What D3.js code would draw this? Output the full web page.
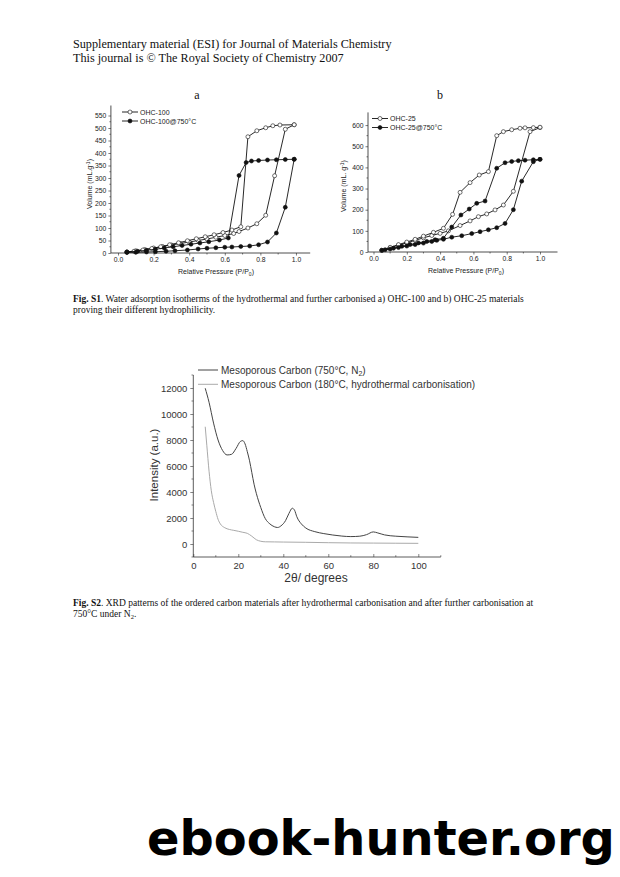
<!DOCTYPE html>
<html><head><meta charset="utf-8">
<script src="https://cdn.jsdelivr.net/npm/d3@7"></script>
<style>body{margin:0;background:#fff}svg{display:block}</style>
</head><body>
<script>
// ---------- DATA ----------
const headerLines = ["Supplementary material (ESI) for Journal of Materials Chemistry","This journal is \u00A9 The Royal Society of Chemistry 2007"];
// Chart a : OHC-100
const aOpenAdsX = [0.05,0.10,0.15,0.20,0.25,0.30,0.35,0.40,0.45,0.50,0.55,0.60,0.65,0.68,0.73,0.78,0.83,0.88,0.94,0.99];
const aOpenAdsY = [4,9,14,20,26,32,38,44,50,56,63,70,78,86,100,117,151,309,495,513];
const aOpenDesX = [0.99,0.91,0.87,0.83,0.78,0.73,0.69,0.64,0.59,0.54,0.49,0.44,0.39,0.34,0.29,0.24,0.19,0.14,0.09,0.05];
const aOpenDesY = [513,512,509,501,489,465,105,92,82,73,65,57,49,41,33,25,18,12,7,4];
const aFillAdsX = [0.05,0.10,0.16,0.21,0.27,0.32,0.39,0.45,0.50,0.55,0.60,0.64,0.69,0.74,0.79,0.84,0.89,0.94,0.99];
const aFillAdsY = [2,3,4,5,7,9,12,16,19,21,23,24,26,28,33,44,80,183,375];
const aFillDesX = [0.99,0.94,0.89,0.84,0.79,0.75,0.72,0.68,0.62,0.57,0.51,0.46,0.41,0.36,0.31,0.26,0.21,0.16,0.11,0.05];
const aFillDesY = [375,374,373,372,370,368,362,310,60,52,45,40,35,30,25,20,15,11,7,4];
// Chart b : OHC-25
const bOpenAdsX = [0.05,0.10,0.15,0.20,0.25,0.30,0.35,0.40,0.45,0.52,0.58,0.63,0.68,0.73,0.78,0.84,0.94,1.00];
const bOpenAdsY = [8,20,32,43,55,67,78,88,100,125,147,167,180,199,222,287,569,588];
const bOpenDesX = [1.00,0.96,0.91,0.88,0.83,0.78,0.74,0.69,0.635,0.58,0.52,0.475,0.42,0.36,0.30,0.25,0.20,0.15,0.10,0.05];
const bOpenDesY = [590,588,587,585,578,569,550,380,364,328,282,178,112,93,75,60,47,35,22,8];
const bFillAdsX = [0.05,0.10,0.15,0.20,0.25,0.30,0.35,0.38,0.42,0.47,0.53,0.59,0.64,0.69,0.74,0.79,0.84,0.89,0.96,1.00];
const bFillAdsY = [8,14,21,28,35,42,50,55,60,70,77,87,96,105,115,135,200,335,427,438];
const bFillDesX = [1.00,0.96,0.91,0.87,0.83,0.79,0.74,0.67,0.62,0.575,0.525,0.47,0.42,0.37,0.32,0.27,0.22,0.17,0.12,0.07];
const bFillDesY = [438,436,434,432,428,422,396,241,230,203,175,118,65,58,50,43,35,27,18,11];
const aYTicks = [0,50,100,150,200,250,300,350,400,450,500,550];
const bYTicks = [0,100,200,300,400,500,600];
const isoXTicks = [0.0,0.2,0.4,0.6,0.8,1.0];
// XRD
const xrd750X = [5.3,7,9,11,13,15,17,19,21,22,23,24,25,26,27,28,30,32,34,36,37.5,39,41,42.5,44,45,46,48,50,54,58,62,66,70,74,77,80,82,85,90,95,100];
const xrd750Y = [11980,10900,9300,8000,7200,6850,6900,7350,7900,7950,7700,7100,6400,5500,4600,3900,2800,1950,1550,1330,1270,1400,1800,2350,2750,2600,2100,1550,1230,950,800,690,610,570,600,720,930,850,700,600,550,510];
const xrd180X = [5.3,6,7,8,9,10,11,12,14,16,18,20,22,24,26,28,30,32,36,40,50,60,70,80,90,100];
const xrd180Y = [9020,7600,5600,4100,3200,2500,1900,1550,1250,1120,1050,980,900,820,600,330,210,170,160,150,130,100,80,70,60,50];
const xrdXTicks = [0,20,40,60,80,100];
const xrdYTicks = [0,2000,4000,6000,8000,10000,12000];

const SERIF = "'Liberation Serif','Times New Roman',serif";
const SANS = "'Liberation Sans',Arial,sans-serif";

const svg = d3.select("body").append("svg").attr("width",620).attr("height",877);
svg.append("rect").attr("width",620).attr("height",877).attr("fill","#fff");

// Header
svg.selectAll("text.hdr").data(headerLines).join("text").attr("class","hdr")
  .attr("x",73).attr("y",(d,i)=>48+i*14).attr("font-family",SERIF).attr("font-size",12.2).attr("fill","#111").text(d=>d);

// ---------- isotherm chart helper ----------
function iso(opts){
  const g = svg.append("g");
  const x = d3.scaleLinear().domain(opts.xd).range(opts.xr);
  const y = d3.scaleLinear().domain(opts.yd).range(opts.yr);
  g.append("line").attr("x1",x.range()[0]).attr("x2",x.range()[1]).attr("y1",y(opts.yd[0])).attr("y2",y(opts.yd[0])).attr("stroke","#222").attr("stroke-width",0.8);
  g.append("line").attr("x1",x.range()[0]).attr("x2",x.range()[0]).attr("y1",y.range()[0]).attr("y2",y.range()[1]).attr("stroke","#222").attr("stroke-width",0.8);
  const ax = d3.axisBottom(x).tickValues(opts.xt).tickFormat(d3.format(".1f")).tickSize(2.5).tickPadding(2);
  const gx = g.append("g").attr("transform",`translate(0,${y(opts.yd[0])})`).call(ax);
  const minorX = d3.range(0.1,1.05,0.2);
  g.selectAll("line.mx").data(minorX).join("line").attr("x1",d=>x(d)).attr("x2",d=>x(d)).attr("y1",y(opts.yd[0])).attr("y2",y(opts.yd[0])+1.5).attr("stroke","#222").attr("stroke-width",0.6);
  const ay = d3.axisLeft(y).tickValues(opts.yt).tickFormat(d3.format("d")).tickSize(2.5).tickPadding(2);
  const gy = g.append("g").attr("transform",`translate(${x.range()[0]},0)`).call(ay);
  const minorY = opts.yt.slice(0,-1).map((d,i)=>(d+opts.yt[i+1])/2);
  g.selectAll("line.my").data(minorY).join("line").attr("x1",x.range()[0]).attr("x2",x.range()[0]-1.5).attr("y1",d=>y(d)).attr("y2",d=>y(d)).attr("stroke","#222").attr("stroke-width",0.6);
  [gx,gy].forEach(a=>{a.select(".domain").remove();a.selectAll("line").attr("stroke","#222").attr("stroke-width",0.6);
    a.selectAll("text").attr("font-family",SANS).attr("font-size",6.8).attr("fill","#222");});
  const line = d3.line().x(d=>x(d[0])).y(d=>y(d[1]));
  opts.series.forEach(s=>{
    const pts = s.x.map((v,i)=>[v,s.y[i]]);
    g.append("path").attr("d",line(pts)).attr("fill","none").attr("stroke","#111").attr("stroke-width",0.9);
    g.selectAll(null).data(pts).join("circle").attr("cx",d=>x(d[0])).attr("cy",d=>y(d[1])).attr("r",2)
      .attr("fill",s.filled?"#111":"#fff").attr("stroke","#111").attr("stroke-width",0.6);
  });
  opts.legend.forEach((l,i)=>{
    const ly = opts.lg[1]+i*9;
    g.append("line").attr("x1",opts.lg[0]).attr("x2",opts.lg[0]+16).attr("y1",ly).attr("y2",ly).attr("stroke","#111").attr("stroke-width",0.9);
    g.append("circle").attr("cx",opts.lg[0]+8).attr("cy",ly).attr("r",2).attr("fill",l.filled?"#111":"#fff").attr("stroke","#111").attr("stroke-width",0.6);
    g.append("text").attr("x",opts.lg[0]+18).attr("y",ly+2.5).attr("font-family",SANS).attr("font-size",7).attr("fill","#222").text(l.name);
  });
  g.append("text").attr("x",opts.title[0]).attr("y",opts.title[1]).attr("text-anchor","middle").attr("font-family",SERIF).attr("font-size",12).attr("fill","#111").text(opts.title[2]);
  const xt = g.append("text").attr("x",opts.xlab[0]).attr("y",opts.xlab[1]).attr("text-anchor","middle").attr("font-family",SANS).attr("font-size",7).attr("fill","#222");
  xt.append("tspan").text("Relative Pressure (P/P");
  xt.append("tspan").attr("font-size",5).attr("dy",1.5).text("0");
  xt.append("tspan").attr("dy",-1.5).text(")");
  const yt = g.append("text").attr("transform",`translate(${opts.ylab[0]},${opts.ylab[1]}) rotate(-90)`).attr("text-anchor","middle").attr("font-family",SANS).attr("font-size",7).attr("fill","#222");
  yt.append("tspan").text(opts.ylabText);
  yt.append("tspan").attr("font-size",5).attr("dy",-2.5).text("-1");
  yt.append("tspan").attr("dy",2.5).text(")");
}

iso({xd:[-0.04,1.08],xr:[110.9,310.2],yd:[0,590],yr:[253,105.5],xt:isoXTicks,yt:aYTicks,
  series:[{x:aOpenAdsX,y:aOpenAdsY,filled:false},{x:aOpenDesX,y:aOpenDesY,filled:false},{x:aFillAdsX,y:aFillAdsY,filled:true},{x:aFillDesX,y:aFillDesY,filled:true}],
  legend:[{name:"OHC-100",filled:false},{name:"OHC-100@750\u00B0C",filled:true}],lg:[122,112],
  title:[197,99,"a"],xlab:[216,274],ylab:[92,184],ylabText:"Volume (mL.g"});
iso({xd:[-0.033,1.105],xr:[368,557.5],yd:[0,660],yr:[252,112.4],xt:isoXTicks,yt:bYTicks,
  series:[{x:bOpenAdsX,y:bOpenAdsY,filled:false},{x:bOpenDesX,y:bOpenDesY,filled:false},{x:bFillAdsX,y:bFillAdsY,filled:true},{x:bFillDesX,y:bFillDesY,filled:true}],
  legend:[{name:"OHC-25",filled:false},{name:"OHC-25@750\u00B0C",filled:true}],lg:[372,118.5],
  title:[440,99,"b"],xlab:[466,273],ylab:[346,186],ylabText:"Volume (mL. g"});

// Captions
function caption(y0, bold, rest1, line2, sub){
  const t1 = svg.append("text").attr("x",73).attr("y",y0).attr("font-family",SERIF).attr("font-size",9.5).attr("fill","#111");
  t1.append("tspan").attr("font-weight","bold").text(bold);
  t1.append("tspan").text(rest1);
  const t2 = svg.append("text").attr("x",73).attr("y",y0+11).attr("font-family",SERIF).attr("font-size",9.5).attr("fill","#111");
  t2.append("tspan").text(line2);
  if(sub){t2.append("tspan").attr("font-size",6.5).attr("dy",2).text(sub[0]);t2.append("tspan").attr("dy",-2).text(sub[1]);}
}
caption(302,"Fig. S1",". Water adsorption isotherms of the hydrothermal and further carbonised a) OHC-100 and b) OHC-25 materials","proving their different hydrophilicity.");
caption(606,"Fig. S2",". XRD patterns of the ordered carbon materials after hydrothermal carbonisation and after further carbonisation at","750\u00B0C under N",["2","."]);

// ---------- XRD chart ----------
{
  const g = svg.append("g");
  const x = d3.scaleLinear().domain([0,110]).range([193.3,440.8]);
  const y = d3.scaleLinear().domain([-1000,13000]).range([557,375]);
  g.append("line").attr("x1",x(0)).attr("x2",x(110)).attr("y1",y(-1000)).attr("y2",y(-1000)).attr("stroke","#333").attr("stroke-width",0.8);
  g.append("line").attr("x1",x(0)).attr("x2",x(0)).attr("y1",y(-1000)).attr("y2",y(13000)).attr("stroke","#333").attr("stroke-width",0.8);
  const gx = g.append("g").attr("transform",`translate(0,${y(-1000)})`).call(d3.axisBottom(x).tickValues(xrdXTicks).tickFormat(d3.format("d")).tickSize(-3).tickPadding(5));
  g.selectAll("line.mx").data(d3.range(10,111,20)).join("line").attr("x1",d=>x(d)).attr("x2",d=>x(d)).attr("y1",y(-1000)).attr("y2",y(-1000)-1.8).attr("stroke","#333").attr("stroke-width",0.6);
  const gy = g.append("g").attr("transform",`translate(${x(0)},0)`).call(d3.axisLeft(y).tickValues(xrdYTicks).tickFormat(d3.format("d")).tickSize(3).tickPadding(3));
  g.selectAll("line.my").data(d3.range(-1000,13001,2000)).join("line").attr("x1",x(0)).attr("x2",x(0)-1.8).attr("y1",d=>y(d)).attr("y2",d=>y(d)).attr("stroke","#333").attr("stroke-width",0.6);
  [gx,gy].forEach(a=>{a.select(".domain").remove();a.selectAll("line").attr("stroke","#333").attr("stroke-width",0.6);
    a.selectAll("text").attr("font-family",SANS).attr("font-size",9.5).attr("fill","#333");});
  const line = d3.line().x(d=>x(d[0])).y(d=>y(d[1])).curve(d3.curveMonotoneX);
  g.append("path").attr("d",line(xrd180X.map((v,i)=>[v,xrd180Y[i]]))).attr("fill","none").attr("stroke","#aaa").attr("stroke-width",1);
  g.append("path").attr("d",line(xrd750X.map((v,i)=>[v,xrd750Y[i]]))).attr("fill","none").attr("stroke","#444").attr("stroke-width",1);
  const leg = [{c:"#444",t:"Mesoporous Carbon (750\u00B0C, N",sub:"2",end:")"},{c:"#aaa",t:"Mesoporous Carbon (180\u00B0C, hydrothermal carbonisation)"}];
  leg.forEach((l,i)=>{
    const ly = 370+i*14.3;
    g.append("line").attr("x1",198).attr("x2",218).attr("y1",ly).attr("y2",ly).attr("stroke",l.c).attr("stroke-width",1);
    const t = g.append("text").attr("x",221).attr("y",ly+3.5).attr("font-family",SANS).attr("font-size",10).attr("fill","#333");
    t.append("tspan").text(l.t);
    if(l.sub){t.append("tspan").attr("font-size",7).attr("dy",2).text(l.sub);t.append("tspan").attr("dy",-2).text(l.end);}
  });
  g.append("text").attr("transform","translate(158,465) rotate(-90)").attr("text-anchor","middle").attr("font-family",SANS).attr("font-size",11.5).attr("fill","#333").text("Intensity (a.u.)");
  g.append("text").attr("x",316).attr("y",582).attr("text-anchor","middle").attr("font-family",SANS).attr("font-size",12).attr("fill","#333").text("2\u03B8/ degrees");
}

// Watermark (fit to the reference width)
const wm = svg.append("text").attr("x",147).attr("y",855).attr("font-family","'DejaVu Sans',sans-serif").attr("font-weight","bold").attr("font-size",50).attr("fill","#000").text("ebook-hunter.org");
const wlen = wm.node().getComputedTextLength();
wm.attr("font-size",50*468/wlen);
</script>
</body></html>
